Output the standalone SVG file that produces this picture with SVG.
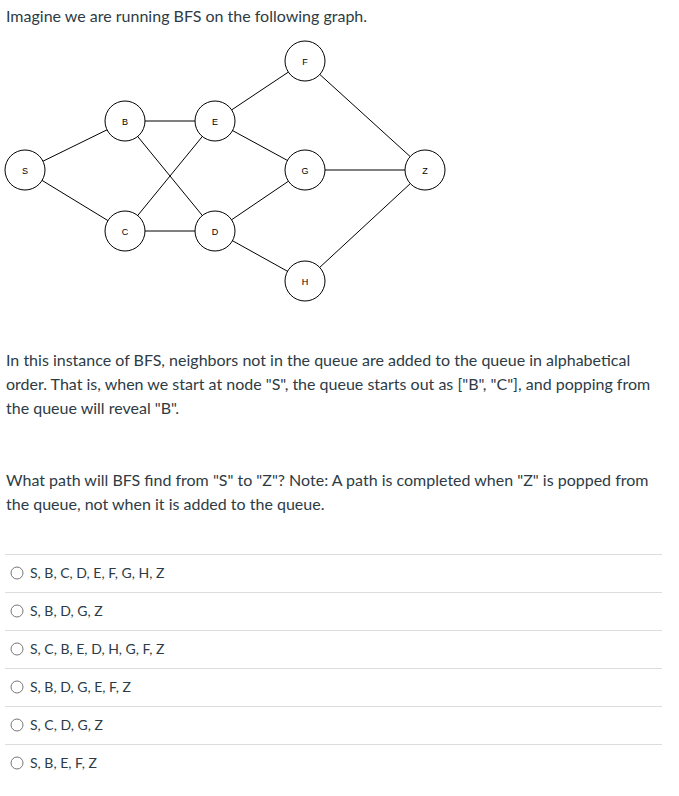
<svg xmlns="http://www.w3.org/2000/svg" width="679" height="796" viewBox="0 0 679 796">
<style>
.t{font-family:Lato,"Noto Sans",sans-serif;font-size:16px;fill:#2d3b45}
.o{font-family:Lato,"Noto Sans",sans-serif;font-size:14px;fill:#2d3b45}
.n circle{fill:#fff;stroke:#000;stroke-width:1}
.n text{font-family:"Liberation Sans",Arial,sans-serif;font-size:9px;fill:#000;text-anchor:middle}
.e line{stroke:#000;stroke-width:1}
.sep{stroke:#ddd;stroke-width:1}
.r{fill:#fff;stroke:#777;stroke-width:1}
</style>
<rect width="679" height="796" fill="#fff"/>
<text class="t" x="6" y="22">Imagine we are running BFS on the following graph.</text>
<g class="e">
<line x1="25" y1="170" x2="125" y2="121"/>
<line x1="25" y1="170" x2="125" y2="231"/>
<line x1="125" y1="121" x2="215" y2="121"/>
<line x1="125" y1="121" x2="215" y2="231"/>
<line x1="125" y1="231" x2="215" y2="121"/>
<line x1="125" y1="231" x2="215" y2="231"/>
<line x1="215" y1="121" x2="305" y2="61"/>
<line x1="215" y1="121" x2="305" y2="170"/>
<line x1="215" y1="231" x2="305" y2="170"/>
<line x1="215" y1="231" x2="305" y2="281"/>
<line x1="305" y1="61" x2="425" y2="170"/>
<line x1="305" y1="170" x2="425" y2="170"/>
<line x1="305" y1="281" x2="425" y2="170"/>
</g>
<g id="S" class="n"><circle cx="25" cy="170" r="20"/><text x="25" y="173.5">S</text></g>
<g id="B" class="n"><circle cx="125" cy="121" r="20"/><text x="125" y="124.5">B</text></g>
<g id="C" class="n"><circle cx="125" cy="231" r="20"/><text x="125" y="234.5">C</text></g>
<g id="E" class="n"><circle cx="215" cy="121" r="20"/><text x="215" y="124.5">E</text></g>
<g id="D" class="n"><circle cx="215" cy="231" r="20"/><text x="215" y="234.5">D</text></g>
<g id="F" class="n"><circle cx="305" cy="61" r="20"/><text x="305" y="64.5">F</text></g>
<g id="G" class="n"><circle cx="305" cy="170" r="20"/><text x="305" y="173.5">G</text></g>
<g id="H" class="n"><circle cx="305" cy="281" r="20"/><text x="305" y="284.5">H</text></g>
<g id="Z" class="n"><circle cx="425" cy="170" r="20"/><text x="425" y="173.5">Z</text></g>
<text class="t" x="6" y="366">In this instance of BFS, neighbors not in the queue are added to the queue in alphabetical</text>
<text class="t" x="6" y="390">order. That is, when we start at node "S", the queue starts out as ["B", "C"], and popping from</text>
<text class="t" x="6" y="414">the queue will reveal "B".</text>
<text class="t" x="6" y="486">What path will BFS find from "S" to "Z"? Note: A path is completed when "Z" is popped from</text>
<text class="t" x="6" y="510">the queue, not when it is added to the queue.</text>
<g>
<line class="sep" x1="5" y1="554.5" x2="662" y2="554.5"/>
<line class="sep" x1="5" y1="592.5" x2="662" y2="592.5"/>
<line class="sep" x1="5" y1="630.5" x2="662" y2="630.5"/>
<line class="sep" x1="5" y1="668.5" x2="662" y2="668.5"/>
<line class="sep" x1="5" y1="706.5" x2="662" y2="706.5"/>
<line class="sep" x1="5" y1="744.5" x2="662" y2="744.5"/>
</g>
<circle class="r" cx="17" cy="573" r="6"/><text class="o" x="30" y="578">S, B, C, D, E, F, G, H, Z</text>
<circle class="r" cx="17" cy="611" r="6"/><text class="o" x="30" y="616">S, B, D, G, Z</text>
<circle class="r" cx="17" cy="649" r="6"/><text class="o" x="30" y="654">S, C, B, E, D, H, G, F, Z</text>
<circle class="r" cx="17" cy="687" r="6"/><text class="o" x="30" y="692">S, B, D, G, E, F, Z</text>
<circle class="r" cx="17" cy="725" r="6"/><text class="o" x="30" y="730">S, C, D, G, Z</text>
<circle class="r" cx="17" cy="763" r="6"/><text class="o" x="30" y="768">S, B, E, F, Z</text>
</svg>
